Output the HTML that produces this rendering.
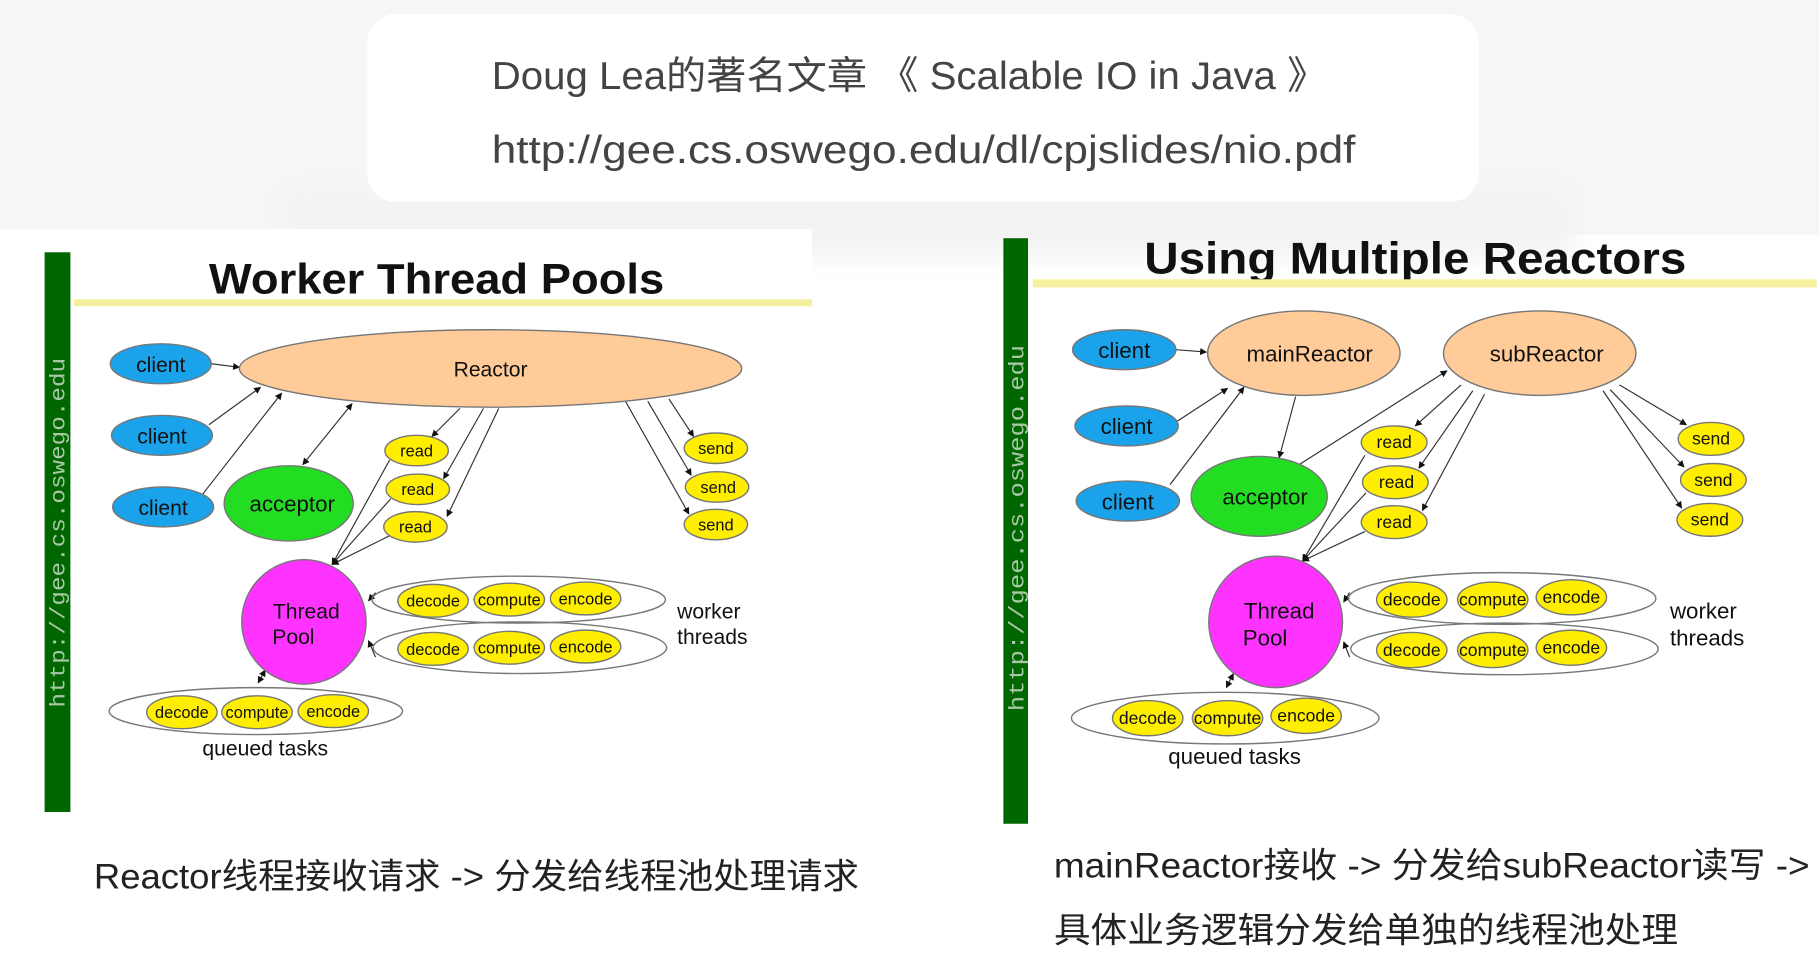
<!DOCTYPE html>
<html><head><meta charset="utf-8"><style>
html,body{margin:0;padding:0;background:#fff;width:1819px;height:954px;overflow:hidden}
svg{display:block}
</style></head><body>
<svg width="1819" height="954" viewBox="0 0 1550 813" preserveAspectRatio="none" xmlns="http://www.w3.org/2000/svg">
<defs>
<marker id="a" viewBox="0 0 10 10" refX="9" refY="5" markerWidth="6" markerHeight="6" orient="auto-start-reverse"><path d="M0,0 L10,5 L0,10 z" fill="#111"/></marker>
<filter id="sh" x="-10%" y="-30%" width="120%" height="170%"><feGaussianBlur stdDeviation="10"/></filter>
</defs>
<rect width="1550" height="813" fill="#fff"/>
<rect x="0" y="0" width="1550" height="200" fill="#f6f6f7"/>
<rect x="240" y="160" width="1100" height="60" fill="#f3f3f4" filter="url(#sh)"/>
<rect x="313" y="12" width="947" height="160" rx="24" fill="#fff"/>
<g font-family="'Liberation Sans','Noto Sans CJK SC',sans-serif" fill="#444" font-size="33">
<text x="419" y="76" textLength="712" lengthAdjust="spacingAndGlyphs">Doug Lea的著名文章 《 Scalable IO in Java 》</text>
<text x="419" y="139" textLength="736" lengthAdjust="spacingAndGlyphs">http://gee.cs.oswego.edu/dl/cpjslides/nio.pdf</text>
</g>
<rect x="0" y="195" width="692" height="515" fill="#fff"/>

<g font-family="'Liberation Sans',sans-serif">
<!-- LEFT -->
<rect x="38" y="215" width="22" height="477" fill="#006600"/>
<text transform="translate(55,603) rotate(-90)" font-family="'Liberation Mono',monospace" font-size="18" fill="#a8c8a8" textLength="298" lengthAdjust="spacingAndGlyphs">http://gee.cs.oswego.edu</text>
<text x="178" y="250" font-size="36" font-weight="bold" fill="#111" textLength="388" lengthAdjust="spacingAndGlyphs">Worker Thread Pools</text>
<rect x="63" y="255" width="629" height="6" fill="#f5f0a0"/>

<g stroke="#333" stroke-width="1" fill="none" marker-end="url(#a)">
<line x1="180" y1="310" x2="204" y2="313"/>
<line x1="178" y1="362" x2="222" y2="330"/>
<line x1="172" y1="422" x2="240" y2="335"/>
<line x1="258" y1="396" x2="300" y2="344" marker-start="url(#a)"/>
<line x1="392" y1="348" x2="368" y2="372"/>
<line x1="412" y1="348" x2="378" y2="408"/>
<line x1="425" y1="348" x2="381" y2="440"/>
<line x1="332" y1="392" x2="283" y2="481"/>
<line x1="333" y1="425" x2="283" y2="481"/>
<line x1="333" y1="456" x2="283" y2="481"/>
<line x1="570" y1="340" x2="591" y2="372"/>
<line x1="552" y1="342" x2="589" y2="405"/>
<line x1="533" y1="342" x2="587" y2="438"/>
<line x1="320" y1="505" x2="314" y2="512" />
<line x1="320" y1="560" x2="314" y2="546" />
<line x1="226" y1="571" x2="220" y2="582" marker-start="url(#a)"/>
</g>

<g stroke="#777" stroke-width="1.2">
<ellipse cx="418" cy="314" rx="214" ry="33" fill="#ffcc99"/>
<ellipse cx="137" cy="310" rx="43" ry="17" fill="#1aa3ea"/>
<ellipse cx="138" cy="371" rx="43" ry="17" fill="#1aa3ea"/>
<ellipse cx="139" cy="432" rx="43" ry="17" fill="#1aa3ea"/>
<ellipse cx="246" cy="429" rx="55" ry="32" fill="#22dd22"/>
<ellipse cx="259" cy="530" rx="53" ry="53" fill="#ff33ff"/>
<g fill="#ffee00">
<ellipse cx="355" cy="384" rx="27" ry="13"/><ellipse cx="356" cy="417" rx="27" ry="13"/><ellipse cx="354" cy="449" rx="27" ry="13"/>
<ellipse cx="610" cy="382" rx="27" ry="13"/><ellipse cx="611" cy="415" rx="27" ry="13"/><ellipse cx="610" cy="447" rx="27" ry="13"/>
</g>
<ellipse cx="442" cy="511" rx="125" ry="20" fill="none"/>
<ellipse cx="443" cy="552" rx="125" ry="22" fill="none"/>
<ellipse cx="218" cy="606" rx="125" ry="20" fill="none"/>
<g fill="#ffee00">
<ellipse cx="369" cy="512" rx="30" ry="14"/><ellipse cx="434" cy="511" rx="30" ry="14"/><ellipse cx="499" cy="510" rx="30" ry="14"/>
<ellipse cx="369" cy="553" rx="30" ry="14"/><ellipse cx="434" cy="552" rx="30" ry="14"/><ellipse cx="499" cy="551" rx="30" ry="14"/>
<ellipse cx="155" cy="607" rx="30" ry="14"/><ellipse cx="219" cy="607" rx="30" ry="14"/><ellipse cx="284" cy="606" rx="30" ry="14"/>
</g>
</g>
<g fill="#111" text-anchor="middle" font-size="18">
<text x="418" y="321">Reactor</text>
<text x="137" y="317">client</text><text x="138" y="378">client</text><text x="139" y="439">client</text>
<text x="249" y="436" font-size="19">acceptor</text>
<text x="261" y="527">Thread</text><text x="250" y="549">Pool</text>
</g>
<g fill="#111" text-anchor="middle" font-size="14">
<text x="355" y="389">read</text><text x="356" y="422">read</text><text x="354" y="454">read</text>
<text x="610" y="387">send</text><text x="612" y="420">send</text><text x="610" y="452">send</text>
<text x="369" y="517">decode</text><text x="434" y="516">compute</text><text x="499" y="515">encode</text>
<text x="369" y="558">decode</text><text x="434" y="557">compute</text><text x="499" y="556">encode</text>
<text x="155" y="612">decode</text><text x="219" y="612">compute</text><text x="284" y="611">encode</text>
</g>
<g fill="#111" font-size="18">
<text x="577" y="527">worker</text><text x="577" y="549">threads</text>
<text x="226" y="644" text-anchor="middle">queued tasks</text>
</g>

<!-- RIGHT -->
<rect x="855" y="203" width="21" height="499" fill="#006600"/>
<text transform="translate(872,606) rotate(-90)" font-family="'Liberation Mono',monospace" font-size="18" fill="#a8c8a8" textLength="312" lengthAdjust="spacingAndGlyphs">http://gee.cs.oswego.edu</text>
<text x="975" y="233" font-size="38" font-weight="bold" fill="#111" textLength="462" lengthAdjust="spacingAndGlyphs">Using Multiple Reactors</text>
<rect x="880" y="238" width="668" height="7" fill="#f5f0a0"/>

<g stroke="#333" stroke-width="1" fill="none" marker-end="url(#a)">
<line x1="1002" y1="298" x2="1028" y2="300"/>
<line x1="1000" y1="361" x2="1046" y2="331"/>
<line x1="997" y1="413" x2="1060" y2="330"/>
<line x1="1104" y1="338" x2="1090" y2="390"/>
<line x1="1107" y1="396" x2="1233" y2="316"/>
<line x1="1245" y1="328" x2="1206" y2="363"/>
<line x1="1255" y1="333" x2="1209" y2="399"/>
<line x1="1265" y1="336" x2="1212" y2="435"/>
<line x1="1163" y1="388" x2="1110" y2="478"/>
<line x1="1164" y1="420" x2="1110" y2="478"/>
<line x1="1163" y1="453" x2="1110" y2="478"/>
<line x1="1380" y1="328" x2="1437" y2="362"/>
<line x1="1372" y1="332" x2="1435" y2="398"/>
<line x1="1366" y1="333" x2="1433" y2="433"/>
<line x1="1150" y1="505" x2="1145" y2="513"/>
<line x1="1150" y1="560" x2="1145" y2="547"/>
<line x1="1051" y1="574" x2="1045" y2="586" marker-start="url(#a)"/>
</g>

<g stroke="#777" stroke-width="1.2">
<ellipse cx="1111" cy="301" rx="82" ry="36" fill="#ffcc99"/>
<ellipse cx="1312" cy="301" rx="82" ry="36" fill="#ffcc99"/>
<ellipse cx="958" cy="298" rx="44" ry="17" fill="#1aa3ea"/>
<ellipse cx="960" cy="363" rx="44" ry="17" fill="#1aa3ea"/>
<ellipse cx="961" cy="427" rx="44" ry="17" fill="#1aa3ea"/>
<ellipse cx="1073" cy="423" rx="58" ry="34" fill="#22dd22"/>
<ellipse cx="1087" cy="530" rx="57" ry="56" fill="#ff33ff"/>
<g fill="#ffee00">
<ellipse cx="1188" cy="377" rx="28" ry="14"/><ellipse cx="1189" cy="411" rx="28" ry="14"/><ellipse cx="1188" cy="445" rx="28" ry="14"/>
<ellipse cx="1458" cy="374" rx="28" ry="14"/><ellipse cx="1460" cy="409" rx="28" ry="14"/><ellipse cx="1457" cy="443" rx="28" ry="14"/>
</g>
<ellipse cx="1280" cy="510" rx="131" ry="22" fill="none"/>
<ellipse cx="1282" cy="553" rx="131" ry="22" fill="none"/>
<ellipse cx="1044" cy="612" rx="131" ry="22" fill="none"/>
<g fill="#ffee00">
<ellipse cx="1203" cy="511" rx="30" ry="15"/><ellipse cx="1272" cy="511" rx="30" ry="15"/><ellipse cx="1339" cy="509" rx="30" ry="15"/>
<ellipse cx="1203" cy="554" rx="30" ry="15"/><ellipse cx="1272" cy="554" rx="30" ry="15"/><ellipse cx="1339" cy="552" rx="30" ry="15"/>
<ellipse cx="978" cy="612" rx="30" ry="15"/><ellipse cx="1046" cy="612" rx="30" ry="15"/><ellipse cx="1113" cy="610" rx="30" ry="15"/>
</g>
</g>
<g fill="#111" text-anchor="middle" font-size="19">
<text x="1116" y="308">mainReactor</text><text x="1318" y="308">subReactor</text>
<text x="958" y="305">client</text><text x="960" y="370">client</text><text x="961" y="434">client</text>
<text x="1078" y="430">acceptor</text>
<text x="1090" y="527">Thread</text><text x="1078" y="550">Pool</text>
</g>
<g fill="#111" text-anchor="middle" font-size="15">
<text x="1188" y="382">read</text><text x="1190" y="416">read</text><text x="1188" y="450">read</text>
<text x="1458" y="379">send</text><text x="1460" y="414">send</text><text x="1457" y="448">send</text>
<text x="1203" y="516">decode</text><text x="1272" y="516">compute</text><text x="1339" y="514">encode</text>
<text x="1203" y="559">decode</text><text x="1272" y="559">compute</text><text x="1339" y="557">encode</text>
<text x="978" y="617">decode</text><text x="1046" y="617">compute</text><text x="1113" y="615">encode</text>
</g>
<g fill="#111" font-size="19">
<text x="1423" y="527">worker</text><text x="1423" y="550">threads</text>
<text x="1052" y="651" text-anchor="middle">queued tasks</text>
</g>
</g>

<g font-family="'Liberation Sans','Noto Sans CJK SC',sans-serif" fill="#222" font-size="30">
<text x="80" y="757" textLength="652" lengthAdjust="spacingAndGlyphs">Reactor线程接收请求 -&gt; 分发给线程池处理请求</text>
<text x="898" y="748" textLength="644" lengthAdjust="spacingAndGlyphs">mainReactor接收 -&gt; 分发给subReactor读写 -&gt;</text>
<text x="898" y="803" textLength="532" lengthAdjust="spacingAndGlyphs">具体业务逻辑分发给单独的线程池处理</text>
</g>
</svg>
</body></html>
